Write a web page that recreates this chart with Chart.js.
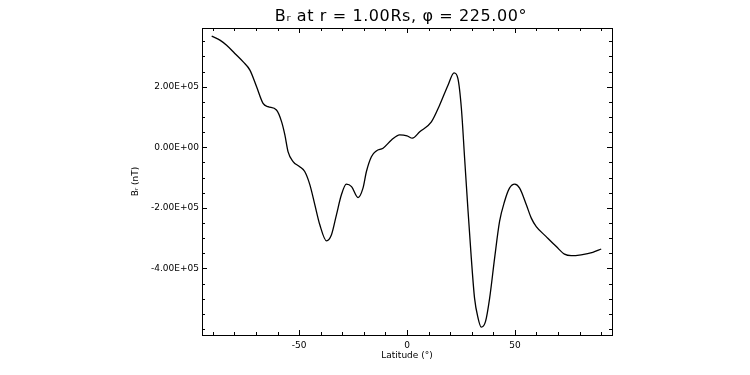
<!DOCTYPE html>
<html>
<head>
<meta charset="utf-8">
<script src="https://cdn.jsdelivr.net/npm/chart.js@4.4.1/dist/chart.umd.min.js"></script>
<style>
  html, body { margin: 0; padding: 0; background: #fff; }
  #contenedor { width: 750px; height: 375px; }
</style>
</head>
<body>
<div id="contenedor"><canvas id="grafica" width="750" height="375"></canvas></div>
<script>
// Datos
const latitud = [
  -90.5, -86.7, -83.6, -79.8, -75.9, -72.8, -69.7, -66.7, -64.4, -60.5,
  -58.1, -56.6, -55.1, -52.8, -49.7, -47.4, -45.0, -42.7, -40.4, -37.3,
  -35.0, -32.7, -30.4, -28.1, -25.7, -22.7, -20.4, -18.8, -16.5, -14.2,
  -11.1, -7.2, -3.4, 0.0, 2.5, 5.9, 11.3, 15.1, 19.0, 21.8,
  23.6, 25.2, 26.7, 28.2, 29.8, 31.3, 32.9, 34.4, 36.4, 38.3,
  40.6, 42.9, 45.2, 47.5, 49.9, 52.2, 55.3, 57.6, 59.9, 64.5,
  69.2, 73.0, 76.1, 80.7, 86.1, 90.0
];
const br = [
  367000, 354000, 337000, 310000, 282000, 255000, 200000, 145000, 134000, 123000,
  84000, 41000, -15000, -47000, -64000, -80000, -124000, -190000, -256000, -309000,
  -289000, -223000, -157000, -122000, -130000, -166000, -135000, -80000, -31000, -12000,
  -3000, 24000, 41000, 38000, 30000, 51000, 84000, 139000, 205000, 246000,
  227000, 129000, -36000, -201000, -366000, -498000, -563000, -594000, -575000, -498000,
  -366000, -245000, -179000, -135000, -122000, -135000, -190000, -234000, -262000, -295000,
  -328000, -353000, -358000, -355000, -347000, -336000
];

// Marcas de los ejes
const xTicks = [-50, 0, 50];
const xTickLabels = ["-50", "0", "50"];
const xMinor = [-90, -80, -70, -60, -50, -40, -30, -20, -10, 0, 10, 20, 30, 40, 50, 60, 70, 80, 90];
const yTicks = [-400000, -200000, 0, 200000];
const yTickLabels = ["-4.00E+05", "-2.00E+05", "0.00E+00", "2.00E+05"];
const yMinor = [
  -600000, -550000, -500000, -450000, -400000, -350000, -300000, -250000, -200000, -150000,
  -100000, -50000, 0, 50000, 100000, 150000, 200000, 250000, 300000, 350000
];

const titulo = "Bᵣ at r = 1.00Rs, φ = 225.00°";
const fuente = "DejaVu Sans";

// Dibuja el marco con marcas hacia adentro (estilo IDL) y el titulo
const marco = {
  id: "marco",
  afterDraw(chart) {
    const { ctx, chartArea: a, scales } = chart;
    const x = scales.x, y = scales.y;
    ctx.save();
    ctx.strokeStyle = "#000";
    ctx.lineWidth = 1;
    ctx.strokeRect(a.left + 0.5, a.top + 0.5, a.right - a.left, a.bottom - a.top);
    ctx.beginPath();
    xMinor.forEach(function (v) {
      const px = Math.round(x.getPixelForValue(v)) + 0.5;
      const len = xTicks.includes(v) ? 5 : 3;
      ctx.moveTo(px, a.bottom);
      ctx.lineTo(px, a.bottom - len);
      ctx.moveTo(px, a.top);
      ctx.lineTo(px, a.top + len);
    });
    yMinor.forEach(function (v) {
      const py = Math.round(y.getPixelForValue(v)) + 0.5;
      const len = yTicks.includes(v) ? 5 : 3;
      ctx.moveTo(a.left, py);
      ctx.lineTo(a.left + len, py);
      ctx.moveTo(a.right, py);
      ctx.lineTo(a.right - len, py);
    });
    ctx.stroke();

    // titulo
    ctx.fillStyle = "#000";
    ctx.font = "16px '" + fuente + "'";
    ctx.letterSpacing = "0.6px";
    ctx.textAlign = "center";
    ctx.textBaseline = "alphabetic";
    ctx.fillText(titulo, 401, 21);
    ctx.restore();
  }
};

const ctx = document.getElementById("grafica").getContext("2d");

new Chart(ctx, {
  type: "line",
  data: {
    datasets: [
      {
        data: latitud.map(function (v, i) { return { x: v, y: br[i] }; }),
        borderColor: "#000",
        borderWidth: 1.3,
        pointRadius: 0,
        cubicInterpolationMode: "monotone",
        fill: false,
      },
    ],
  },
  options: {
    responsive: false,
    animation: false,
    devicePixelRatio: 1,
    layout: { padding: { left: 120, right: 138, top: 28, bottom: 0 } },
    plugins: {
      legend: { display: false },
      tooltip: { enabled: false },
      title: { display: false },
    },
    scales: {
      x: {
        type: "linear",
        min: -95,
        max: 95,
        grid: { display: false, drawTicks: false },
        border: { display: false },
        afterBuildTicks: function (scale) {
          scale.ticks = xTicks.map(function (v) { return { value: v }; });
        },
        afterFit: function (scale) { scale.height = 40; },
        ticks: {
          color: "#000",
          padding: 5,
          maxRotation: 0,
          font: { family: fuente, size: 9 },
          callback: function (v) { return xTickLabels[xTicks.indexOf(v)]; },
        },
        title: {
          display: true,
          text: "Latitude (°)",
          color: "#000",
          font: { family: fuente, size: 9 },
          padding: { top: 0, bottom: 14 },
        },
      },
      y: {
        type: "linear",
        min: -620000,
        max: 394000,
        grid: { display: false, drawTicks: false },
        border: { display: false },
        afterBuildTicks: function (scale) {
          scale.ticks = yTicks.map(function (v) { return { value: v }; });
        },
        afterFit: function (scale) { scale.width = 82; },
        ticks: {
          color: "#000",
          padding: 3,
          font: { family: fuente, size: 9 },
          callback: function (v) { return yTickLabels[yTicks.indexOf(v)]; },
        },
        title: {
          display: true,
          text: "Bᵣ (nT)",
          color: "#000",
          font: { family: fuente, size: 9 },
          padding: { top: 10, bottom: 0 },
        },
      },
    },
  },
  plugins: [marco],
});
</script>
</body>
</html>
